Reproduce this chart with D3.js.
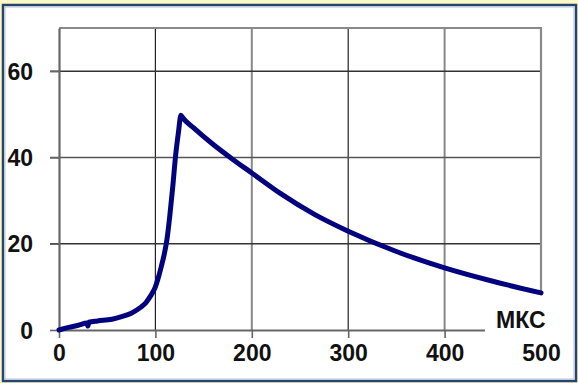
<!DOCTYPE html>
<html>
<head>
<meta charset="utf-8">
<script src="https://cdn.jsdelivr.net/npm/d3@7"></script>
<style>
  html, body { margin: 0; padding: 0; background: #fdf8c4; }
  svg { display: block; }
</style>
</head>
<body>
<svg id="chart" width="578" height="383"></svg>
<script>
// Time axis (microseconds) and signal samples
const timeUs = [0, 10, 20, 29, 30, 31, 40, 55, 65, 75, 85, 90, 95, 100, 103, 106, 109, 112,
                115, 118, 121, 124, 126.5, 128, 140, 160, 180, 200, 230, 265, 300,
                350, 400, 450, 500];
const signal = [0, 0.6, 1.1, 1.6, 0.9, 1.8, 2.1, 2.5, 3.1, 3.9, 5.3, 6.3, 7.9, 10.0, 12.1,
                14.6, 17.4, 21.0, 26.6, 33.2, 40.5, 46, 49.8, 49.3, 46.8, 43, 39.6, 36.4, 31.6,
                26.8, 22.9, 18.2, 14.4, 11.3, 8.6];
const xTicks = [0, 100, 200, 300, 400, 500];
const yTicks = [0, 20, 40, 60];
const unitLabel = "МКС";

const svg = d3.select("#chart");
const W = 578, H = 383;
const plot = { left: 59, right: 541, top: 28, bottom: 330 };

const x = d3.scaleLinear().domain([0, 500]).range([plot.left, plot.right]);
const y = d3.scaleLinear().domain([0, 70]).range([plot.bottom, plot.top]);

// Background and frame
svg.append("rect").attr("x", 0).attr("y", 0).attr("width", W).attr("height", H).attr("fill", "#fdf8c4");
svg.append("rect").attr("x", 3).attr("y", 5).attr("width", 573).attr("height", 376)
  .attr("fill", "#ffffff").attr("stroke", "#27446f").attr("stroke-width", 2.5);
svg.append("rect").attr("x", 5).attr("y", 7).attr("width", 569).attr("height", 372)
  .attr("fill", "none").attr("stroke", "#b4c2dc").attr("stroke-width", 1);

// Grid lines
const grid = svg.append("g");
grid.selectAll("line.v").data(xTicks.filter(d => d > 0)).join("line")
  .attr("x1", d => x(d)).attr("x2", d => x(d))
  .attr("y1", plot.top).attr("y2", plot.bottom)
  .attr("stroke", d => (d / 100) % 2 ? "#222" : "#888")
  .attr("stroke-width", d => (d / 100) % 2 ? 1.2 : 2);
grid.selectAll("line.h").data(yTicks.filter(d => d > 0)).join("line")
  .attr("x1", plot.left - 9).attr("x2", plot.right)
  .attr("y1", d => y(d)).attr("y2", d => y(d))
  .attr("stroke", d => (d / 20) % 2 ? "#333" : "#555")
  .attr("stroke-width", 1.5);

// Plot border (top and right)
svg.append("path")
  .attr("d", `M${plot.left},${plot.top}H${plot.right}V${plot.bottom}`)
  .attr("fill", "none").attr("stroke", "#8a8a8a").attr("stroke-width", 2.2);

// Axes
const xAxis = d3.axisBottom(x).tickValues(xTicks).tickSize(8).tickSizeOuter(0);
const yAxis = d3.axisLeft(y).tickValues(yTicks).tickSize(9).tickSizeOuter(0);

const gx = svg.append("g").attr("transform", `translate(0,${plot.bottom})`).call(xAxis);
const gy = svg.append("g").attr("transform", `translate(${plot.left},0)`).call(yAxis);

[gx, gy].forEach(g => {
  g.select(".domain").attr("stroke", "#666").attr("stroke-width", 2.2);
  g.selectAll(".tick line").attr("stroke", "#666").attr("stroke-width", 1.6);
  g.selectAll(".tick text")
    .attr("fill", "#111")
    .style("font-family", "'Liberation Sans', Arial, sans-serif")
    .style("font-weight", "700")
    .style("font-size", "23px");
});
gx.selectAll(".tick text").attr("y", 15).attr("dy", "0.71em");
gy.selectAll(".tick text").attr("x", -26).attr("dy", "0.36em");

// Curve
const line = d3.line()
  .x((d, i) => x(timeUs[i]))
  .y(d => y(d))
  .curve(d3.curveMonotoneX);

// Unit label box sits over the axis end
svg.append("rect").attr("x", 485).attr("y", 293).attr("width", 86).attr("height", 47)
  .attr("fill", "#ffffff");
svg.append("text")
  .attr("x", 496).attr("y", 328)
  .attr("fill", "#111")
  .style("font-family", "'Liberation Sans', Arial, sans-serif")
  .style("font-weight", "700")
  .style("font-size", "23px")
  .text(unitLabel);

svg.append("path")
  .datum(signal)
  .attr("d", line)
  .attr("fill", "none")
  .attr("stroke", "#02027f")
  .attr("stroke-width", 5)
  .attr("stroke-linejoin", "round")
  .attr("stroke-linecap", "round");
</script>
</body>
</html>
